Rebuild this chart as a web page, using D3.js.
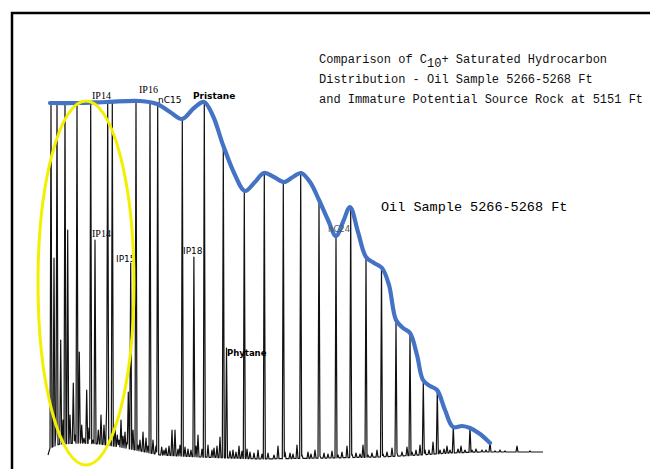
<!DOCTYPE html>
<html><head><meta charset="utf-8">
<script src="https://cdn.jsdelivr.net/npm/d3@7/dist/d3.min.js"></script>
<style>html,body{margin:0;padding:0;background:#fff;} svg{display:block}</style>
</head><body><svg id="c" width="650" height="469"></svg>
<script>
// Retention time (arbitrary min) and response (relative abundance)
const peakRT = [0.30,0.60,0.80,0.90,1.27,1.50,1.70,1.97,2.20,2.53,2.70,2.90,3.13,3.37,3.60,3.87,4.10,4.27,4.50,4.70,5.03,5.30,5.60,5.87,5.97,6.20,6.43,6.70,6.93,7.10,7.30,7.50,7.70,7.90,8.03,8.27,8.50,8.80,9.00,9.20,9.50,9.80,10.00,10.20,10.50,10.80,10.97,11.37,11.60,11.80,12.10,12.40,12.70,13.00,13.20,13.43,13.70,14.00,14.30,14.59,14.80,15.00,15.40,15.63,16.00,16.40,16.60,16.90,17.20,17.53,17.85,18.20,18.50,18.80,19.10,19.40,19.63,19.90,20.20,20.60,21.00,21.40,21.63,22.00,22.60,23.00,23.53,23.70,24.20,24.50,24.90,25.27,25.40,26.00,26.30,26.70,27.10,27.20,27.60,28.00,28.40,28.80,29.00,29.40,29.90,30.27,30.40,30.80,31.20,31.50,31.80,32.00,32.40,32.90,33.35,33.50,33.90,34.40,34.80,34.90,35.40,35.90,36.20,36.40,36.80,37.20,37.53,37.70,38.10,38.50,38.93,39.20,39.60,39.90,40.20,40.53,41.00,41.30,41.70,42.20,42.40,42.80,43.40,43.80,44.20,44.70,45.20,45.70,46.90,48.20];
const peakApex = [89.25,50.5,7.5,89.5,30.0,10.0,89.5,57.5,11.25,19.25,6.25,89.25,27.0,8.75,5.5,17.5,8.0,89.5,5.0,55.0,7.5,11.25,8.75,13.75,89.5,5.5,89.5,8.75,6.25,5.0,10.0,6.0,7.0,4.5,17.0,49.25,7.5,89.75,3.75,5.0,7.0,5.5,3.5,89.75,5.0,3.5,89.0,3.25,2.5,3.0,3.5,7.5,7.5,2.75,3.75,85.25,3.25,2.75,2.5,50.75,3.5,6.25,2.75,89.5,3.75,2.5,3.0,3.5,5.75,78.0,28.0,2.25,2.5,2.0,3.5,2.25,67.5,2.75,2.0,1.75,2.5,1.5,71.75,1.75,1.25,3.5,69.5,2.0,1.75,1.5,3.75,71.75,1.25,2.0,1.5,2.5,65.0,1.0,1.75,1.5,2.25,56.0,1.25,2.0,3.5,63.25,1.5,1.75,1.5,3.75,50.5,1.25,1.75,2.5,48.25,1.5,2.0,3.0,34.5,1.75,2.0,3.25,31.75,2.0,2.5,3.75,19.5,2.5,2.5,4.5,17.5,2.5,2.75,3.5,2.5,8.25,2.75,3.5,2.5,8.25,2.5,2.75,2.5,2.5,4.5,2.25,2.5,2.25,3.5,2.25];

const baselineRT  = [0,0.2,1.2,3.2,5.2,7.2,9.2,11.2,15.2,21.2,28.2,33.2,37.2,40.2,43.2,49.5];
const baselineVal = [1.25,3.0,4.0,4.25,4.0,3.25,2.25,1.25,0.75,0.25,0.5,0.75,1.25,1.75,2.0,2.0];

const envelopeRT  = [0.20,2.90,5.90,9.20,10.90,12.20,13.40,14.60,15.60,16.50,17.50,18.70,19.70,20.70,21.60,22.60,23.60,24.50,25.30,26.20,27.10,28.00,28.80,29.50,30.20,31.00,31.80,32.60,33.40,34.10,34.80,35.50,36.20,36.90,37.50,38.20,38.90,39.70,40.50,41.40,42.20,43.20,44.20];
const envelopeVal = [89.25,89.25,89.5,89.75,89.0,87.0,85.25,88.0,89.5,86.0,78.75,71.25,67.25,69.5,71.75,70.75,69.5,70.75,71.75,69.5,65.0,60.0,56.0,59.5,63.25,57.0,50.75,49.25,48.0,43.75,35.0,33.0,31.75,26.25,20.0,18.5,17.5,12.5,8.25,8.5,8.0,6.5,4.25];

const labelText = ["IP14","IP16","nC15","Pristane","IP14","IP15","IP18","Phytane","nC24","Oil Sample 5266-5268 Ft"];
const labelRT   = [4.40,9.10,11.00,14.50,4.40,6.80,13.50,17.90,28.00,33.30];
const labelVal  = [90.25,91.75,89.25,90.25,55.75,49.5,51.5,26.0,57.0,62.25];

const highlightRT = [3.8], highlightVal = [44.25], highlightSpanRT = [4.8], highlightSpanVal = [45.5];

const titleLines = ["Comparison of C|10|+ Saturated Hydrocarbon","Distribution - Oil Sample 5266-5268 Ft","and Immature Potential Source Rock at 5151 Ft"];

// ---- drawing ----
const svg = d3.select("#c");
const x = d3.scaleLinear().domain([0, 49.5]).range([48, 543]);
const y = d3.scaleLinear().domain([0, 90]).range([460, 100]);
const base = d3.scaleLinear().domain(baselineRT).range(baselineVal).clamp(true);

svg.append("rect").attr("x",0).attr("y",0).attr("width",650).attr("height",469).attr("fill","#fff");

// trace
const W = 0.1;
let ts = d3.range(0, 49.5 + 1e-9, 0.02);
peakRT.forEach(r => { ts.push(r, r - W, r + W); });
ts = Array.from(new Set(ts.map(t => +t.toFixed(4)))).sort((a,b)=>a-b);
const peaks = peakRT.map((r,i)=>({r, h: Math.max(0, peakApex[i] - base(r))}));
const trace = ts.map(t => {
  let v = base(t);
  for (const p of peaks) {
    const d = Math.abs(t - p.r);
    if (d < W) v += p.h * (1 - d / W);
  }
  return [t, v];
});
svg.append("path")
  .attr("d", d3.line().x(d=>x(d[0])).y(d=>y(d[1]))(trace))
  .attr("fill","none").attr("stroke","#111").attr("stroke-width",1.2).attr("stroke-linejoin","round");

// envelope
svg.append("path")
  .attr("d", d3.line().curve(d3.curveCatmullRom.alpha(0.5)).x((d,i)=>x(envelopeRT[i])).y((d,i)=>y(envelopeVal[i]))(envelopeRT))
  .attr("fill","none").attr("stroke","#4472c4").attr("stroke-width",4.2).attr("stroke-linecap","round").attr("stroke-linejoin","round");

// labels
const labelStyle = {
  "IP14": {f:"Liberation Serif", s:10},
  "IP16": {f:"Liberation Serif", s:10},
  "nC15": {f:"DejaVu Sans", s:9},
  "Pristane": {f:"DejaVu Sans", s:9},
  "IP15": {f:"DejaVu Sans", s:9},
  "IP18": {f:"DejaVu Sans", s:9},
  "Phytane": {f:"DejaVu Sans", s:8.5},
  "nC24": {f:"DejaVu Sans", s:8.5},
  "Oil Sample 5266-5268 Ft": {f:"Liberation Mono", s:13.5}
};
labelText.forEach((t,i) => {
  const st = labelStyle[t];
  svg.append("text").attr("x", x(labelRT[i])).attr("y", y(labelVal[i]))
    .attr("font-family", st.f).attr("font-size", st.s)
    .attr("font-weight", (t === "Pristane" || t === "Phytane") ? "bold" : "normal")
    .attr("fill", t === "nC24" ? "#555" : "#000").text(t);
});

// title
const tl = [62.5, 82.5, 102.5];
titleLines.forEach((line, i) => {
  const tx = svg.append("text").attr("x", 319).attr("y", tl[i])
    .attr("font-family","Liberation Mono").attr("font-size",12).attr("fill","#111");
  const parts = line.split("|");
  if (parts.length === 1) { tx.text(line); }
  else {
    tx.append("tspan").text(parts[0]);
    tx.append("tspan").attr("dy",4).text(parts[1]);
    tx.append("tspan").attr("dy",-4).text(parts[2]);
  }
});

// highlight ellipse
svg.append("ellipse")
  .attr("cx", x(highlightRT[0])).attr("cy", y(highlightVal[0]))
  .attr("rx", x(highlightRT[0] + highlightSpanRT[0]) - x(highlightRT[0]))
  .attr("ry", y(0) - y(highlightSpanVal[0]))
  .attr("fill","none").attr("stroke","#f2f000").attr("stroke-width",3);

// frame
svg.append("rect").attr("x",12).attr("y",13).attr("width",700).attr("height",500)
  .attr("fill","none").attr("stroke","#000").attr("stroke-width",2.5);
</script></body></html>
